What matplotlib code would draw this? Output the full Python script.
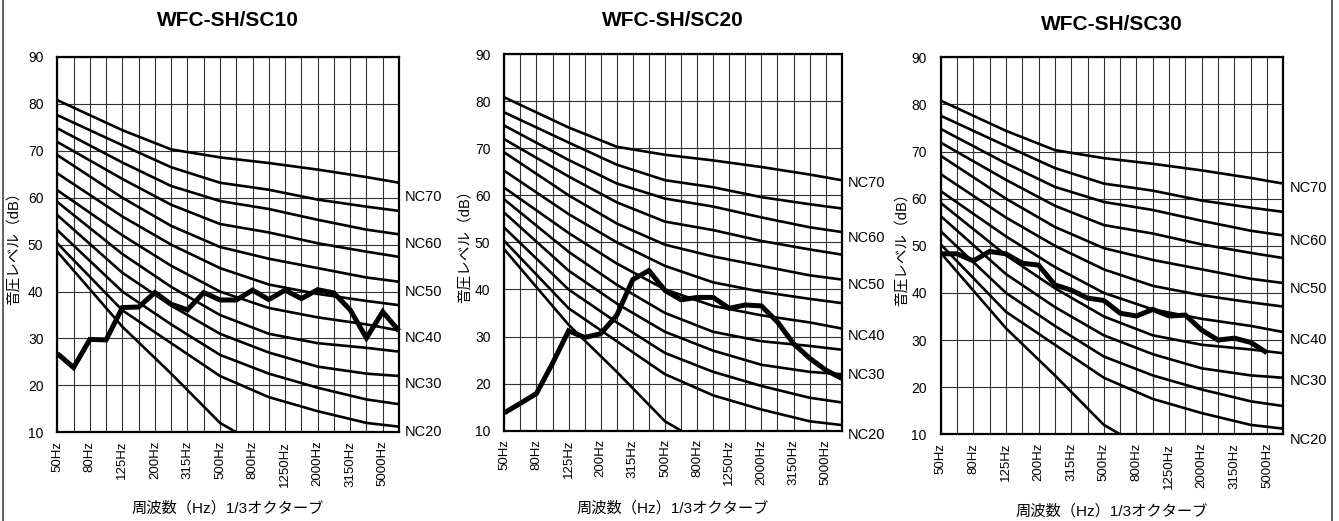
import matplotlib
matplotlib.use("Agg")
import matplotlib.pyplot as plt
from matplotlib.lines import Line2D

plt.rcParams['font.family'] = ['Liberation Sans', 'Noto Sans CJK JP']
NARROW = ['Liberation Sans Narrow', 'Liberation Sans']

# 1/3 octave bands on the x axis (drawn at equal spacing)
bands = [50, 63, 80, 100, 125, 160, 200, 250, 315, 400, 500, 630,
         800, 1000, 1250, 1600, 2000, 2500, 3150, 4000, 5000, 6300]
tick_bands = bands[::2]

# NC curves, values read at the octave break points
nc_nodes = [50, 125, 250, 500, 1000, 2000, 4000, 6300]
nc_curves = [
    [80.8, 74.4, 70.3, 68.6, 67.4, 66.0, 64.4, 63.2],
    [77.6, 71.2, 66.5, 63.2, 61.7, 59.6, 58.1, 57.2],
    [74.8, 67.5, 62.5, 59.3, 57.6, 55.3, 53.2, 52.2],
    [71.9, 64.0, 58.5, 54.4, 52.6, 50.3, 48.5, 47.4],
    [69.1, 60.0, 54.0, 49.5, 47.0, 45.0, 43.0, 42.1],
    [65.2, 56.0, 50.0, 45.0, 41.5, 39.5, 38.0, 37.1],
    [61.6, 52.0, 45.5, 40.0, 36.5, 34.5, 33.0, 31.7],
    [59.1, 48.0, 41.0, 35.0, 31.0, 29.0, 28.0, 27.2],
    [56.3, 44.0, 37.0, 31.0, 27.0, 24.0, 22.5, 22.0],
    [53.1, 40.0, 33.0, 26.5, 22.5, 19.5, 17.0, 16.0],
    [50.3, 36.0, 29.0, 22.0, 17.5, 14.5, 12.0, 11.2],
]
nc_low_nodes = [50, 125, 250, 500, 630]
nc_low = [48.5, 32.5, 22.5, 12.0, 10.0]

nc_names = ['NC70', 'NC60', 'NC50', 'NC40', 'NC30', 'NC20']

titles = ['WFC-SH/SC10', 'WFC-SH/SC20', 'WFC-SH/SC30']

sc10 = [26.8, 23.8, 29.8, 29.7, 36.6, 36.7, 39.8, 37.3, 36.1, 39.8, 38.2,
        38.2, 40.3, 38.3, 40.3, 38.5, 40.4, 39.7, 36.1, 30.1, 35.7, 31.6]
sc20 = [13.8, 15.8, 17.9, 24.3, 31.2, 29.8, 30.6, 34.5, 42.1, 44.0, 39.8,
        37.8, 38.3, 38.3, 36.0, 36.7, 36.5, 33.1, 28.5, 25.4, 22.9, 21.1]
sc30 = [48.3, 48.3, 46.8, 48.8, 48.3, 46.3, 45.9, 41.7, 40.6, 38.9, 38.4,
        35.7, 35.1, 36.5, 35.1, 35.3, 32.1, 30.0, 30.4, 29.5, 27.3]
measured = [sc10, sc20, sc30]

ylabel = '音圧レベル（dB）'
xlabel = '周波数（Hz）1/3オクターブ'

# layout (pixels of a 1339x521 canvas)
W, H = 1339, 521
boxes = [(57.3, 57.0, 399.0, 432.3),
         (504.3, 54.0, 841.7, 430.7),
         (940.7, 57.3, 1283.3, 434.3)]
title_y = [20, 21, 24]
xlabel_y = [508, 508, 511]
ylabel_x = [14, 465, 902]
label_levels = [[60.2, 50.1, 40.0, 30.0, 20.4, 10.0],
                [62.5, 51.0, 41.0, 30.2, 21.9, 9.0],
                [62.3, 51.0, 40.9, 30.1, 21.3, 8.8]]

fig = plt.figure(figsize=(W / 100, H / 100), dpi=100)

for k in range(3):
    x0, y0, x1, y1 = boxes[k]
    ax = fig.add_axes([x0 / W, 1 - y1 / H, (x1 - x0) / W, (y1 - y0) / H])
    ax.set_xlim(0, len(bands) - 1)
    ax.set_ylim(10, 90)

    ax.set_xticks(range(len(bands)), minor=True)
    ax.set_xticks([bands.index(b) for b in tick_bands])
    ax.set_xticklabels([f'{b}Hz' for b in tick_bands], rotation=90,
                       family=NARROW, fontsize=9.5)
    ax.set_yticks(range(10, 91, 10))
    ax.set_yticklabels([str(v) for v in range(10, 91, 10)], fontsize=10)
    ax.tick_params(which='both', length=0)
    ax.tick_params(axis='y', pad=10)
    ax.tick_params(axis='x', pad=6)
    ax.grid(which='both', axis='x', color='#333333', lw=0.8)
    ax.grid(which='major', axis='y', color='#333333', lw=0.8)
    ax.set_axisbelow(True)
    for s in ax.spines.values():
        s.set_linewidth(1.6)
        s.set_zorder(5)

    xs = [bands.index(b) for b in nc_nodes]
    for c in nc_curves:
        ax.plot(xs, c, color='black', lw=1.9, zorder=3, solid_capstyle='butt')
    ax.plot([bands.index(b) for b in nc_low_nodes], nc_low, color='black',
            lw=1.9, zorder=3, solid_capstyle='butt')

    m = measured[k]
    ax.plot(range(len(m)), m, color='black', lw=3.6, zorder=4,
            solid_joinstyle='miter', solid_capstyle='butt', clip_on=False)

    for name, lv in zip(nc_names, label_levels[k]):
        ax.text(1.018, lv, name, transform=ax.get_yaxis_transform(),
                ha='left', va='center', fontsize=10.5, family=NARROW)

    fig.text((x0 + x1) / 2 / W, 1 - title_y[k] / H, titles[k], ha='center',
             va='center', fontsize=15, fontweight='bold')
    fig.text((x0 + x1) / 2 / W, 1 - xlabel_y[k] / H, xlabel, ha='center',
             va='center', fontsize=11)
    fig.text(ylabel_x[k] / W, 1 - (y0 + y1) / 2 / H, ylabel, ha='center',
             va='center', rotation=90, fontsize=10.5)

# outer frame lines
for px in (2.5, 1332.0):
    fig.add_artist(Line2D([px / W, px / W], [0, 1], color='#444444', lw=1.2))

fig.savefig('out.png', dpi=100)
